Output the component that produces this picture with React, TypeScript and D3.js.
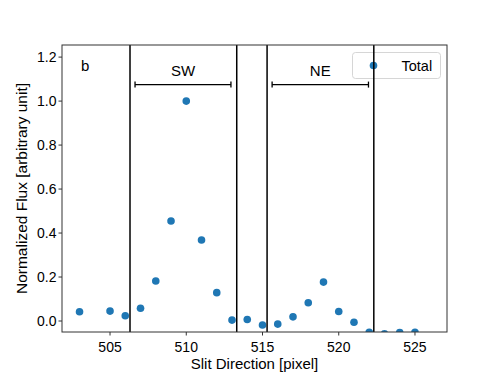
import React from 'react'
import * as d3 from 'd3'

// slit pixel positions and normalized flux
const pixels = [503, 505, 506, 507, 508, 509, 510, 511, 512, 513, 514, 515, 516, 517, 518, 519, 520, 521, 522, 523, 524, 525]
const flux = [0.042, 0.045, 0.024, 0.058, 0.182, 0.455, 1.0, 0.368, 0.129, 0.004, 0.007, -0.018, -0.014, 0.019, 0.083, 0.177, 0.043, -0.006, -0.051, -0.058, -0.052, -0.051]

// region boundaries and labelled ranges
const boundaries = [506.31, 513.31, 515.3, 522.3]
const regions = [
  { name: 'SW', from: 506.64, to: 512.93 },
  { name: 'NE', from: 515.63, to: 521.95 },
]
const regionBarY = 1.075

const xTicks = [505, 510, 515, 520, 525]
const yTicks = [0, 0.2, 0.4, 0.6, 0.8, 1.0, 1.2]

export default function App() {
  const width = 498, height = 374
  const m = { left: 62, right: 51, top: 45, bottom: 42 }
  const x = d3.scaleLinear().domain([501.85, 527.1]).range([m.left, width - m.right])
  const y = d3.scaleLinear().domain([-0.05, 1.255]).range([height - m.bottom, m.top])
  const font = '"Liberation Sans", Arial, sans-serif'
  const pw = width - m.right - m.left
  const ph = height - m.bottom - m.top

  return (
    <svg width={width} height={height} style={{ position: 'absolute', left: 0, top: 0, fontFamily: font }}>
      <defs>
        <clipPath id="plot">
          <rect x={m.left} y={m.top} width={pw} height={ph} />
        </clipPath>
      </defs>
      <rect width={width} height={height} fill="#fff" />

      {/* legend */}
      <g>
        <rect x={352.5} y={52.5} width={88} height={26} rx={3} fill="#fff" fillOpacity={0.8} stroke="#ccc" strokeWidth={0.8} />
        <circle cx={373.5} cy={65.5} r={3.8} fill="#1f77b4" />
        <text x={401.5} y={71} fontSize={14.5} fill="#000">Total</text>
      </g>

      <g clipPath="url(#plot)">
        {pixels.map((p, i) => (
          <circle key={p} cx={x(p)} cy={y(flux[i])} r={3.8} fill="#1f77b4" />
        ))}
        {boundaries.map(b => (
          <line key={b} x1={x(b)} x2={x(b)} y1={m.top} y2={height - m.bottom} stroke="#000" strokeWidth={1.5} />
        ))}
      </g>

      {regions.map(r => (
        <g key={r.name}>
          <line x1={x(r.from)} x2={x(r.to)} y1={y(regionBarY)} y2={y(regionBarY)} stroke="#000" strokeWidth={1.3} />
          <line x1={x(r.from)} x2={x(r.from)} y1={y(regionBarY) - 3} y2={y(regionBarY) + 3} stroke="#000" strokeWidth={1.3} />
          <line x1={x(r.to)} x2={x(r.to)} y1={y(regionBarY) - 3} y2={y(regionBarY) + 3} stroke="#000" strokeWidth={1.3} />
          <text x={x((r.from + r.to) / 2)} y={y(regionBarY) - 9} fontSize={15} textAnchor="middle">{r.name}</text>
        </g>
      ))}

      <text x={81} y={71} fontSize={15}>b</text>

      {/* frame */}
      <rect x={m.left} y={m.top} width={pw} height={ph} fill="none" stroke="#333" strokeWidth={1} />

      {/* x axis */}
      {xTicks.map(t => (
        <g key={t}>
          <line x1={x(t)} x2={x(t)} y1={height - m.bottom} y2={height - m.bottom + 3.5} stroke="#333" />
          <text x={x(t)} y={height - m.bottom + 20} fontSize={14} textAnchor="middle">{t}</text>
        </g>
      ))}
      <text x={m.left + pw / 2} y={369} fontSize={15} textAnchor="middle">Slit Direction [pixel]</text>

      {/* y axis */}
      {yTicks.map(t => (
        <g key={t}>
          <line x1={m.left - 3.5} x2={m.left} y1={y(t)} y2={y(t)} stroke="#333" />
          <text x={m.left - 5.5} y={y(t) + 5} fontSize={14} textAnchor="end">{t.toFixed(1)}</text>
        </g>
      ))}
      <text transform={`translate(27,${m.top + ph / 2}) rotate(-90)`} fontSize={15.5} textAnchor="middle">Normalized Flux [arbitrary unit]</text>
    </svg>
  )
}
